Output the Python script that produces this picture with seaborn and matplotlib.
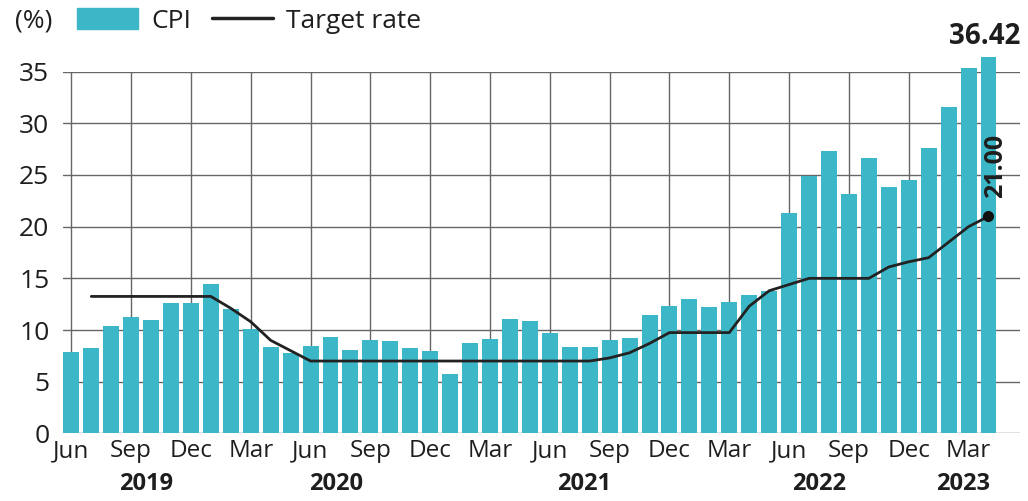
import numpy as np
import pandas as pd
import matplotlib
matplotlib.use("Agg")
import matplotlib.pyplot as plt
import matplotlib.patches as mpatches
from matplotlib.lines import Line2D
import seaborn as sns

# ── Data ──────────────────────────────────────────────────────────────────────
MONTHS = pd.date_range("2019-06-01", "2023-04-01", freq="MS")

CPI = [7.9, 8.3, 10.4, 11.3, 11.0, 12.6, 12.6,                       # 2019 Jun-Dec
       14.5, 12.0, 10.1, 8.4, 7.8, 8.5, 9.3, 8.1, 9.0, 8.9, 8.3, 8.0,  # 2020
       5.7, 8.7, 9.1, 11.1, 10.9, 9.7, 8.4, 8.4, 9.0, 9.2, 11.5, 12.3, # 2021
       13.0, 12.2, 12.7, 13.4, 13.8, 21.3, 24.9, 27.3, 23.2, 26.6, 23.8, 24.5,  # 2022
       27.6, 31.6, 35.4, 36.42]                                      # 2023 Jan-Apr

TARGET = [np.nan, 13.25, 13.25, 13.25, 13.25, 13.25, 13.25,
          13.25, 12.1, 10.8, 9.0, 8.0, 7.0, 7.0, 7.0, 7.0, 7.0, 7.0, 7.0,
          7.0, 7.0, 7.0, 7.0, 7.0, 7.0, 7.0, 7.0, 7.3, 7.8, 8.7, 9.75,
          9.75, 9.75, 9.75, 12.3, 13.8, 14.4, 15.0, 15.0, 15.0, 15.0, 16.1, 16.6,
          17.0, 18.5, 20.0, 21.0]

YEARS     = ["2019", "2020", "2021", "2022", "2023"]
YEAR_XPOS = [3.75, 13.3, 25.7, 37.5, 44.7]   # label centres, in month-index units
Y_TICKS   = [0, 5, 10, 15, 20, 25, 30, 35]

BAR_COLOR  = "#3cb7c8"
LINE_COLOR = "#222222"
GRID_COLOR = "#666666"
TEXT_COLOR = "#1e1e1e"

sns.set_theme(style="white")
plt.rcParams["font.family"] = ["Open Sans", "DejaVu Sans"]

df = pd.DataFrame({"month": MONTHS.strftime("%Y-%m"), "cpi": CPI, "target": TARGET})
df["idx"] = np.arange(len(df))

# ── Plot ──────────────────────────────────────────────────────────────────────
fig = plt.figure(figsize=(10.28, 5.01), dpi=100)
ax = fig.add_axes([0.0616, 0.135, 0.931, 0.722])

sns.barplot(data=df, x="month", y="cpi", order=list(df["month"]), color=BAR_COLOR,
            width=0.8, saturation=1, edgecolor="none", ax=ax, zorder=2)
for p in ax.patches:
    p.set_clip_on(False)

sns.lineplot(data=df, x="idx", y="target", color=LINE_COLOR, linewidth=2.0,
             ax=ax, zorder=3)
last = df.iloc[-1]
ax.plot(last["idx"], last["target"], "o", color="#111111", markersize=7, zorder=4,
        clip_on=False)

ax.set_xlim(-0.4, 47.6)
ax.set_ylim(0, 35)
ax.set_yticks(Y_TICKS)
ax.set_yticklabels([str(t) for t in Y_TICKS], fontsize=19, color=TEXT_COLOR)
tick_idx = df["idx"][::3]
ax.set_xticks(tick_idx)
ax.set_xticklabels(MONTHS[::3].strftime("%b"), fontsize=17.5, color=TEXT_COLOR)
ax.tick_params(axis="both", length=0)
ax.tick_params(axis="y", pad=10)
ax.tick_params(axis="x", pad=4)
ax.set_xlabel("")
ax.set_ylabel("")
ax.grid(True, color=GRID_COLOR, linewidth=1.0)
ax.set_axisbelow(True)
for s in ax.spines.values():
    s.set_visible(False)

for year, xp in zip(YEARS, YEAR_XPOS):
    ax.text(xp, -0.14, year, transform=ax.get_xaxis_transform(), ha="center",
            va="center", fontsize=17, fontweight="bold", color=TEXT_COLOR)

# value labels
ax.annotate(f"{CPI[-1]:.2f}", (last["idx"], CPI[-1]), xytext=(-3, 4),
            textcoords="offset points", ha="center", va="bottom",
            fontsize=20, fontweight="bold", color=TEXT_COLOR, annotation_clip=False)
ax.annotate(f"{TARGET[-1]:.2f}", (last["idx"], TARGET[-1]), xytext=(5, 13),
            textcoords="offset points", ha="center", va="bottom", rotation=90,
            fontsize=18, fontweight="bold", color=TEXT_COLOR, annotation_clip=False)

# legend
fig.text(0.0146, 0.958, "(%)", ha="left", va="center", fontsize=19, color=TEXT_COLOR)
handles = [mpatches.Patch(color=BAR_COLOR, label="CPI"),
           Line2D([0], [0], color=LINE_COLOR, linewidth=2.5, label="Target rate")]
ax.legend(handles=handles, loc="center left", bbox_to_anchor=(0.075, 0.958),
          bbox_transform=fig.transFigure, ncol=2, frameon=False, fontsize=19,
          handlelength=2.3, handleheight=0.8, handletextpad=0.5, columnspacing=0.8,
          borderpad=0, borderaxespad=0, labelcolor=TEXT_COLOR)

fig.savefig("out.png", dpi=100)
